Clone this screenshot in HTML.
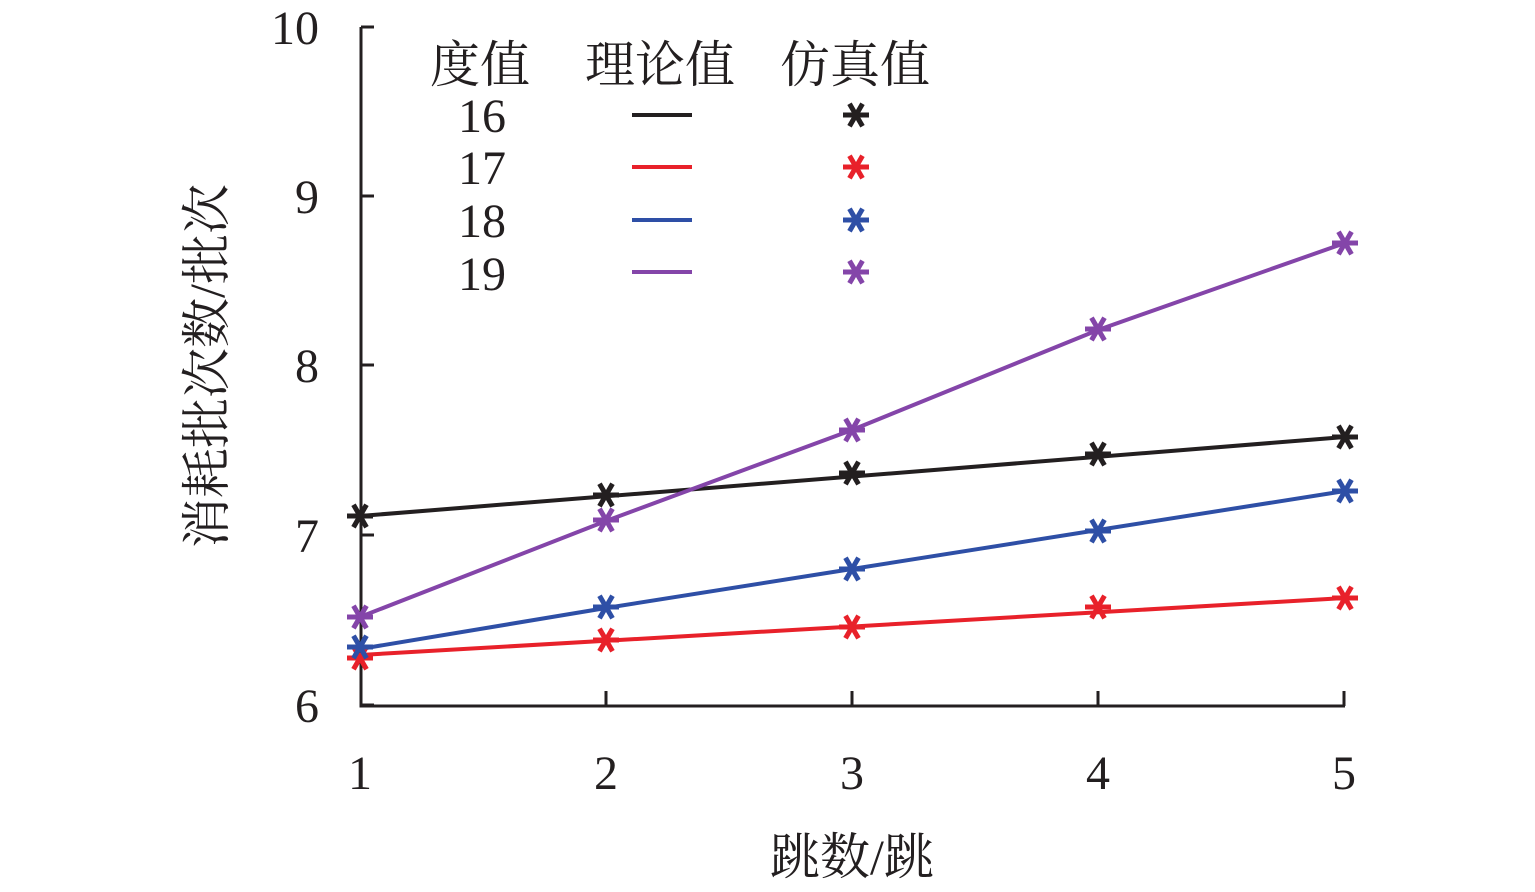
<!DOCTYPE html>
<html><head><meta charset="utf-8"><style>body{margin:0;background:#fff}svg{display:block}text{font-family:"Liberation Serif","Noto Serif CJK SC",serif;fill:#231f20}</style></head><body>
<svg width="1535" height="892" viewBox="0 0 1535 892">
<defs>
<g id="m"><path d="M-13 0H13M-6.5 -11.3L6.5 11.3M-6.5 11.3L6.5 -11.3" stroke-width="5" fill="none"/></g>
</defs>
<g stroke="#231f20" stroke-width="3" fill="none">
<path d="M361 27V706H1345"/>
<path d="M361 27H374M361 196H374M361 365H374M361 535H374M361 705H374"/>
<path d="M606 706V691M852 706V691M1098 706V691M1344 706V691"/>
</g>
<g font-size="48" text-anchor="end">
<text x="319" y="44">10</text><text x="319" y="213">9</text><text x="319" y="382">8</text><text x="319" y="552">7</text><text x="319" y="722">6</text>
</g>
<g font-size="48" text-anchor="middle">
<text x="360" y="789">1</text><text x="606" y="789">2</text><text x="852" y="789">3</text><text x="1098" y="789">4</text><text x="1344" y="789">5</text>
</g>
<text x="852" y="874" font-size="50" text-anchor="middle">跳数/跳</text>
<text transform="translate(224,366) rotate(-90)" font-size="50" text-anchor="middle">消耗批次数/批次</text>
<g font-size="50">
<text x="430" y="82">度值</text><text x="585" y="82">理论值</text><text x="780" y="82">仿真值</text>
</g>
<g font-size="48">
<text x="458" y="132">16</text><text x="458" y="184">17</text><text x="458" y="237">18</text><text x="458" y="290">19</text>
</g>
<g stroke-width="4">
<path d="M632 115H692" stroke="#231f20"/><path d="M632 167H692" stroke="#e8212a"/><path d="M632 220H692" stroke="#2e4fa6"/><path d="M632 272H692" stroke="#8445a9"/>
</g>
<use href="#m" x="856" y="115" stroke="#231f20"/>
<use href="#m" x="856" y="167" stroke="#e8212a"/>
<use href="#m" x="856" y="220" stroke="#2e4fa6"/>
<use href="#m" x="856" y="272" stroke="#8445a9"/>
<g fill="none" stroke-width="4">
<path d="M360 516L1345 437" stroke="#231f20"/>
<path d="M360 655L1345 598" stroke="#e8212a"/>
<path d="M360 649L606 608L852 569L1098 530L1345 491" stroke="#2e4fa6"/>
<path d="M360 617L606 521L852 430L1098 330L1345 243" stroke="#8445a9"/>
</g>
<g stroke="#231f20"><use href="#m" x="360" y="516"/><use href="#m" x="606" y="495"/><use href="#m" x="852" y="473"/><use href="#m" x="1098" y="454"/><use href="#m" x="1345" y="437"/></g>
<g stroke="#e8212a"><use href="#m" x="360" y="658"/><use href="#m" x="606" y="640"/><use href="#m" x="852" y="627"/><use href="#m" x="1098" y="607"/><use href="#m" x="1345" y="598"/></g>
<g stroke="#2e4fa6"><use href="#m" x="360" y="647"/><use href="#m" x="606" y="607"/><use href="#m" x="852" y="569"/><use href="#m" x="1098" y="531"/><use href="#m" x="1345" y="491"/></g>
<g stroke="#8445a9"><use href="#m" x="360" y="617"/><use href="#m" x="606" y="520"/><use href="#m" x="852" y="430"/><use href="#m" x="1098" y="329"/><use href="#m" x="1345" y="243"/></g>
</svg>
</body></html>
